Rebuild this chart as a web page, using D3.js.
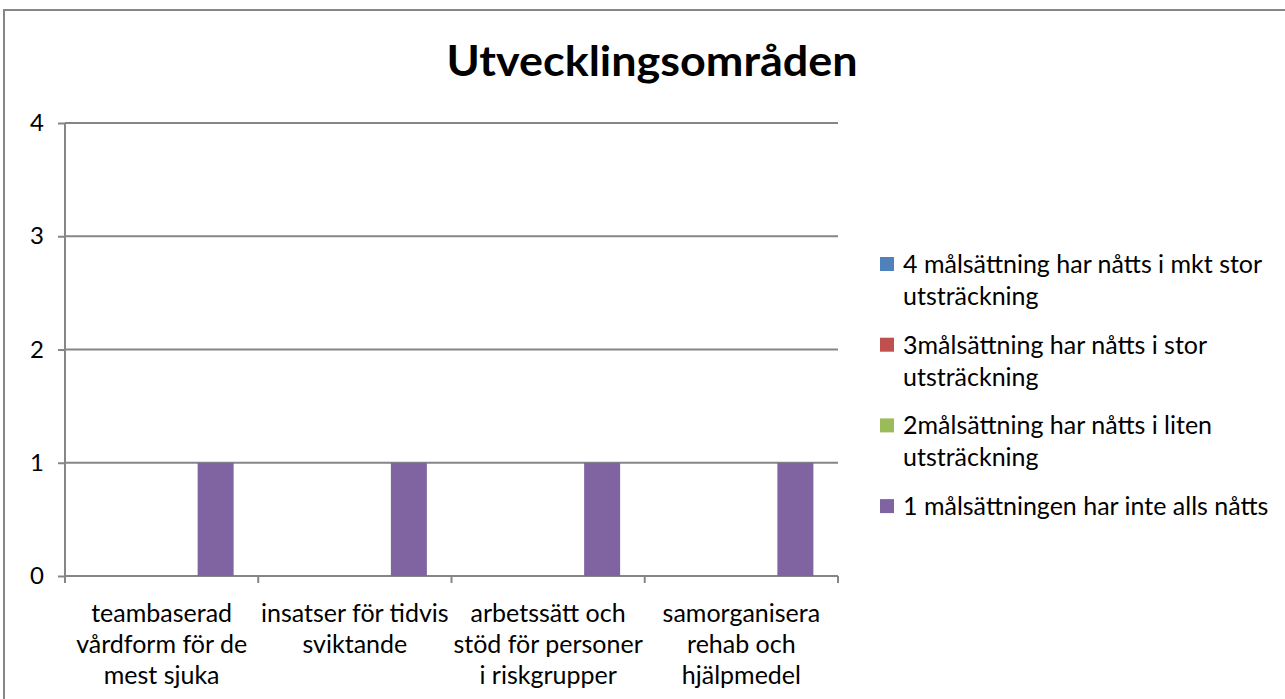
<!DOCTYPE html>
<html>
<head>
<meta charset="utf-8">
<script src="https://cdn.jsdelivr.net/npm/d3@7"></script>
<style>
  body { margin: 0; background: #fff; }
  svg { display: block; font-family: Lato, "Open Sans", sans-serif; }
</style>
</head>
<body>
<svg></svg>
<script>
// chart values
const categories = ["teambaserad vårdform för de mest sjuka", "insatser för tidvis sviktande",
  "arbetssätt och stöd för personer i riskgrupper", "samorganisera rehab och hjälpmedel"];
const categoryLines = [
  ["teambaserad", "vårdform för de", "mest sjuka"],
  ["insatser för tidvis", "sviktande"],
  ["arbetssätt och", "stöd för personer", "i riskgrupper"],
  ["samorganisera", "rehab och", "hjälpmedel"]
];
const seriesNames = [
  "4 målsättning har nåtts i mkt stor utsträckning",
  "3målsättning har nåtts i stor utsträckning",
  "2målsättning har nåtts i liten utsträckning",
  "1 målsättningen har inte alls nåtts"
];
const legendLines = [
  ["4 målsättning har nåtts i mkt stor", "utsträckning"],
  ["3målsättning har nåtts i stor", "utsträckning"],
  ["2målsättning har nåtts i liten", "utsträckning"],
  ["1 målsättningen har inte alls nåtts"]
];
const series4 = [0, 0, 0, 0];
const series3 = [0, 0, 0, 0];
const series2 = [0, 0, 0, 0];
const series1 = [1, 1, 1, 1];
const seriesValues = [series4, series3, series2, series1];
const seriesColors = ["#4F81BD", "#C0504D", "#9BBB59", "#8064A2"];
const yTicks = [0, 1, 2, 3, 4];

const width = 1285, height = 699;
const svg = d3.select("svg").attr("width", width).attr("height", height);

const plotLeft = 65, plotRight = 838, plotTop = 123, plotBottom = 576;
const gridColor = "#868686";
const labelSize = 25;

// outer chart border (runs off the right and bottom edges)
svg.append("rect")
  .attr("x", 4).attr("y", 10)
  .attr("width", 1400).attr("height", 800)
  .attr("fill", "none")
  .attr("stroke", gridColor)
  .attr("stroke-width", 2);

// title
svg.append("text")
  .attr("x", 652).attr("y", 76)
  .attr("text-anchor", "middle")
  .attr("font-size", 42)
  .attr("font-weight", "bold")
  .attr("textLength", 411)
  .attr("lengthAdjust", "spacingAndGlyphs")
  .attr("fill", "#000")
  .text("Utvecklingsområden");

const x = d3.scaleBand().domain(categories).range([plotLeft, plotRight]).padding(0);
const xSub = d3.scaleBand().domain(seriesNames).range([0, x.bandwidth()])
  .paddingInner(0).paddingOuter(0.684);
const y = d3.scaleLinear().domain([0, 4]).range([plotBottom, plotTop]);

// gridlines + y ticks
const yAxis = svg.append("g")
  .attr("transform", `translate(${plotLeft},0)`)
  .call(d3.axisLeft(y).tickValues(yTicks).tickSize(7).tickPadding(14).tickFormat(d3.format("d")));
yAxis.select(".domain").remove();
yAxis.selectAll(".tick line").attr("stroke", gridColor).attr("stroke-width", 2);
yAxis.selectAll(".tick text").attr("font-size", 24).attr("fill", "#000")
  .attr("font-family", "Lato, sans-serif");

svg.append("g").selectAll("line")
  .data(yTicks)
  .join("line")
  .attr("x1", plotLeft).attr("x2", plotRight)
  .attr("y1", d => y(d)).attr("y2", d => y(d))
  .attr("stroke", gridColor)
  .attr("stroke-width", 2);

// y axis line
svg.append("line")
  .attr("x1", plotLeft).attr("x2", plotLeft)
  .attr("y1", plotTop).attr("y2", plotBottom)
  .attr("stroke", gridColor).attr("stroke-width", 2);

// x axis ticks at category boundaries
const boundaries = categories.map(c => x(c)).concat([plotRight]);
svg.append("g").selectAll("line")
  .data(boundaries)
  .join("line")
  .attr("x1", d => d).attr("x2", d => d)
  .attr("y1", plotBottom).attr("y2", plotBottom + 7)
  .attr("stroke", gridColor).attr("stroke-width", 2);

// bars
const groups = svg.append("g").selectAll("g")
  .data(categories)
  .join("g")
  .attr("transform", c => `translate(${x(c)},0)`);

groups.selectAll("rect")
  .data((c, ci) => seriesNames.map((s, si) => ({ s, si, v: seriesValues[si][ci] })))
  .join("rect")
  .attr("x", d => xSub(d.s))
  .attr("width", xSub.bandwidth())
  .attr("y", d => y(d.v))
  .attr("height", d => y(0) - y(d.v))
  .attr("fill", d => seriesColors[d.si]);

// category labels
svg.append("g").selectAll("text")
  .data(categories)
  .join("text")
  .attr("x", c => x(c) + x.bandwidth() / 2)
  .attr("y", 622)
  .attr("text-anchor", "middle")
  .attr("font-size", labelSize)
  .attr("fill", "#000")
  .each(function(c, i) {
    d3.select(this).selectAll("tspan")
      .data(categoryLines[i])
      .join("tspan")
      .attr("x", x(c) + x.bandwidth() / 2)
      .attr("dy", (d, j) => j === 0 ? 0 : 31)
      .text(d => d);
  });

// legend
const legend = svg.append("g").selectAll("g")
  .data(seriesNames)
  .join("g")
  .attr("transform", (d, i) => `translate(880, ${264 + i * 80.7})`);

legend.append("rect")
  .attr("x", 0).attr("y", -7)
  .attr("width", 14).attr("height", 14)
  .attr("fill", (d, i) => seriesColors[i]);

legend.append("text")
  .attr("x", 23).attr("y", 9)
  .attr("font-size", labelSize)
  .attr("fill", "#000")
  .each(function(d, i) {
    d3.select(this).selectAll("tspan")
      .data(legendLines[i])
      .join("tspan")
      .attr("x", 23)
      .attr("dy", (t, j) => j === 0 ? 0 : 32)
      .text(t => t);
  });
</script>
</body>
</html>
